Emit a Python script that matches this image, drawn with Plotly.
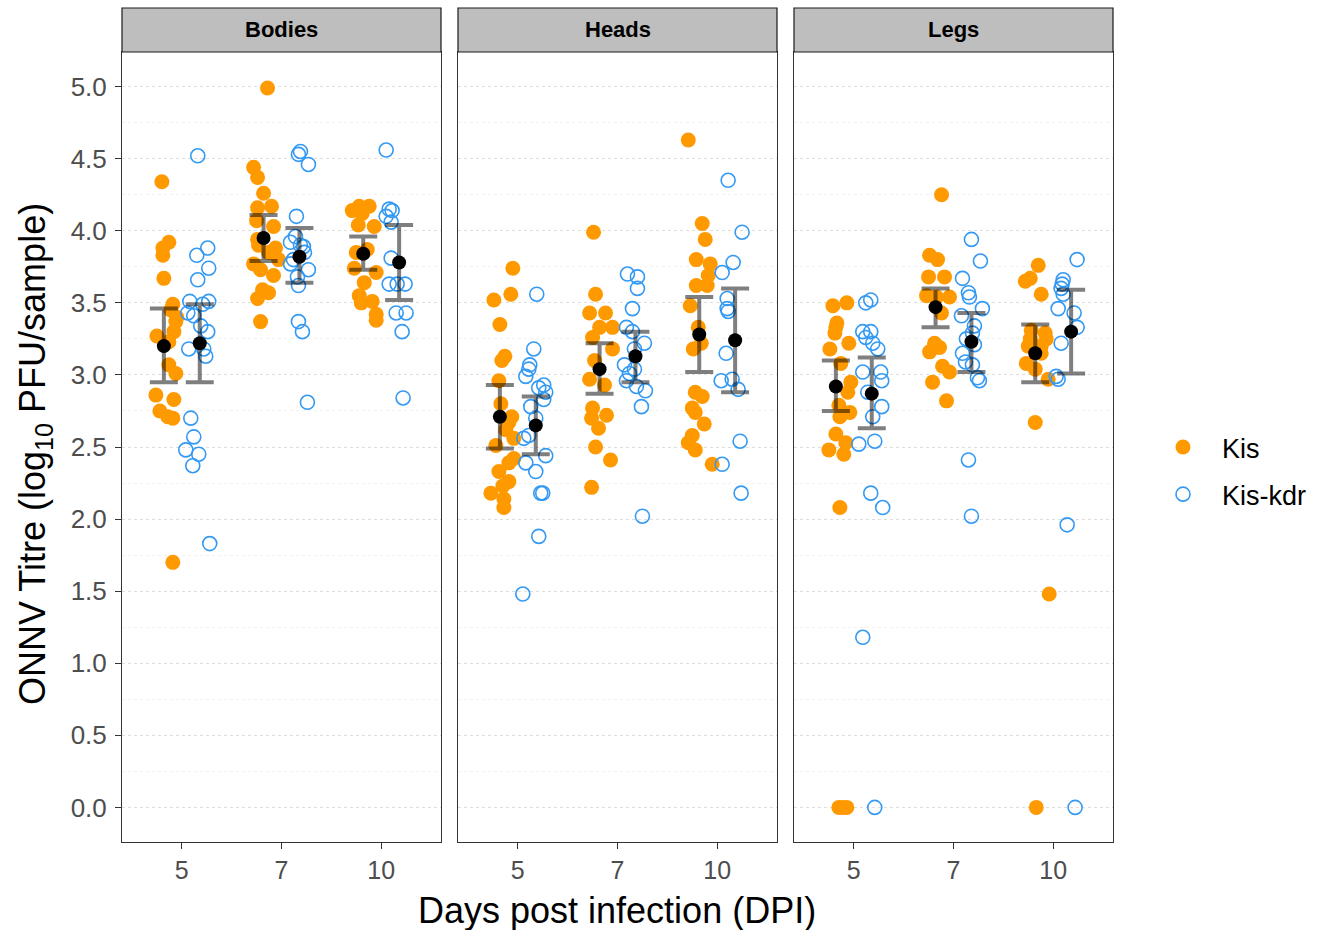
import plotly.graph_objects as go

W, H = 1329, 930
tissues = ["Bodies", "Heads", "Legs"]
dpi_labels = ["5", "7", "10"]
strains = ["Kis", "Kis-kdr"]

# ---- titre values (log10 PFU/sample) and jitter offsets (category units) ----
bodies_kis_5 = [4.34, 3.92, 3.88, 3.83, 3.67, 3.49, 3.45, 3.40, 3.37, 3.30, 3.27, 3.23, 3.07, 3.01, 2.86, 2.83, 2.75, 2.71, 2.70, 1.70]
bodies_kis_5_j = [-0.02, 0.05, -0.01, -0.01, 0.0, 0.09, 0.07, 0.13, 0.12, 0.10, -0.07, 0.05, 0.05, 0.12, -0.08, 0.10, -0.04, 0.04, 0.09, 0.09]
bodies_kdr_5 = [4.52, 3.88, 3.83, 3.74, 3.66, 3.51, 3.51, 3.49, 3.43, 3.41, 3.34, 3.30, 3.18, 3.18, 3.13, 2.70, 2.57, 2.48, 2.45, 2.37, 1.83]
bodies_kdr_5_j = [-0.02, 0.08, -0.03, 0.09, -0.02, -0.10, 0.09, 0.03, -0.12, -0.06, 0.01, 0.08, -0.11, 0.04, 0.06, -0.09, -0.06, -0.14, -0.01, -0.07, 0.10]
bodies_kis_7 = [4.99, 4.44, 4.37, 4.26, 4.17, 4.16, 4.07, 4.03, 3.94, 3.90, 3.88, 3.85, 3.80, 3.77, 3.73, 3.69, 3.59, 3.57, 3.53, 3.37]
bodies_kis_7_j = [0.04, -0.10, -0.06, 0.0, 0.08, -0.06, -0.07, 0.10, -0.06, -0.05, 0.12, 0.05, 0.15, -0.10, -0.03, 0.10, -0.01, 0.05, -0.06, -0.03]
bodies_kdr_7 = [4.55, 4.53, 4.46, 4.10, 3.96, 3.92, 3.90, 3.89, 3.85, 3.80, 3.77, 3.73, 3.68, 3.62, 3.37, 3.30, 2.81]
bodies_kdr_7_j = [0.01, -0.01, 0.09, -0.03, -0.04, -0.09, 0.01, 0.04, 0.05, -0.06, -0.09, 0.09, -0.02, -0.01, -0.01, 0.03, 0.08]
bodies_kis_10 = [4.14, 4.17, 4.17, 4.12, 4.04, 4.03, 3.87, 3.85, 3.74, 3.71, 3.64, 3.55, 3.51, 3.50, 3.42, 3.38]
bodies_kis_10_j = [-0.11, -0.04, 0.06, -0.01, -0.05, 0.11, 0.04, -0.07, -0.09, 0.13, 0.01, -0.04, 0.09, -0.02, 0.13, 0.13]
bodies_kdr_10 = [4.56, 4.15, 4.14, 4.10, 4.06, 3.81, 3.63, 3.63, 3.63, 3.43, 3.43, 3.30, 2.84]
bodies_kdr_10_j = [-0.13, -0.10, -0.07, -0.13, -0.08, -0.08, -0.10, -0.02, 0.06, -0.03, 0.07, 0.03, 0.04]

heads_kis_5 = [3.74, 3.56, 3.52, 3.35, 3.13, 3.10, 2.96, 2.80, 2.71, 2.67, 2.62, 2.56, 2.51, 2.42, 2.39, 2.33, 2.26, 2.23, 2.18, 2.14, 2.08]
heads_kis_5_j = [0.13, 0.11, -0.06, 0.0, 0.05, 0.02, -0.01, 0.01, 0.12, 0.09, 0.06, 0.14, -0.04, 0.14, 0.09, -0.01, 0.09, 0.03, -0.09, 0.04, 0.04]
heads_kdr_5 = [3.56, 3.18, 3.07, 3.04, 2.99, 2.93, 2.91, 2.88, 2.83, 2.78, 2.70, 2.58, 2.56, 2.44, 2.39, 2.33, 2.18, 2.18, 1.88, 1.48]
heads_kdr_5_j = [0.01, -0.02, -0.06, -0.07, -0.10, 0.08, 0.03, 0.10, 0.08, -0.05, 0.0, -0.07, -0.12, 0.10, -0.10, 0.0, 0.05, 0.07, 0.03, -0.13]
heads_kis_7 = [3.99, 3.56, 3.43, 3.43, 3.33, 3.33, 3.26, 3.18, 3.10, 2.97, 2.93, 2.77, 2.72, 2.70, 2.63, 2.50, 2.41, 2.22]
heads_kis_7_j = [-0.06, -0.04, -0.10, 0.06, 0.0, 0.13, -0.07, 0.13, -0.05, -0.10, 0.05, -0.07, 0.07, -0.08, -0.01, -0.04, 0.11, -0.08]
heads_kdr_7 = [3.70, 3.68, 3.60, 3.46, 3.33, 3.30, 3.22, 3.18, 3.07, 3.04, 3.01, 2.96, 2.92, 2.89, 2.78, 2.02]
heads_kdr_7_j = [-0.08, 0.02, 0.02, -0.03, -0.09, -0.03, 0.09, -0.01, -0.11, -0.01, -0.06, -0.09, 0.01, 0.10, 0.06, 0.07]
heads_kis_10 = [4.63, 4.05, 3.94, 3.80, 3.77, 3.69, 3.62, 3.62, 3.48, 3.33, 3.22, 3.18, 2.88, 2.85, 2.77, 2.74, 2.66, 2.58, 2.53, 2.48, 2.38]
heads_kis_10_j = [-0.11, 0.03, 0.06, -0.03, 0.11, 0.09, -0.03, 0.08, -0.09, -0.01, 0.02, -0.06, -0.04, 0.03, -0.07, -0.04, 0.05, -0.07, -0.11, -0.04, 0.13]
heads_kdr_10 = [4.35, 3.99, 3.78, 3.71, 3.53, 3.46, 3.44, 3.15, 2.96, 2.97, 2.90, 2.54, 2.38, 2.18]
heads_kdr_10_j = [-0.07, 0.07, -0.02, -0.13, -0.08, -0.08, -0.07, -0.09, -0.14, -0.03, 0.03, 0.05, -0.13, 0.06]

legs_kis_5 = [3.48, 3.50, 3.36, 3.33, 3.29, 3.22, 3.18, 3.08, 2.95, 2.88, 2.79, 2.74, 2.71, 2.59, 2.53, 2.48, 2.45, 2.08, 0.0, 0.0, 0.0]
legs_kis_5_j = [-0.03, 0.11, 0.01, 0.0, -0.01, 0.13, -0.06, 0.05, 0.15, 0.12, 0.03, 0.14, 0.04, 0.0, 0.10, -0.07, 0.08, 0.04, 0.03, 0.07, 0.11]
legs_kdr_5 = [3.50, 3.52, 3.30, 3.30, 3.26, 3.22, 3.18, 3.02, 3.02, 2.96, 2.88, 2.78, 2.71, 2.54, 2.52, 2.18, 2.08, 1.18, 0.0]
legs_kdr_5_j = [-0.06, -0.01, -0.09, -0.01, -0.06, 0.01, 0.06, -0.09, 0.09, 0.10, -0.04, 0.10, 0.01, 0.03, -0.13, -0.01, 0.11, -0.09, 0.03]
legs_kis_7 = [4.25, 3.83, 3.80, 3.68, 3.68, 3.55, 3.54, 3.54, 3.43, 3.22, 3.19, 3.16, 3.06, 3.02, 2.95, 2.82]
legs_kis_7_j = [0.06, -0.06, 0.02, -0.07, 0.09, -0.09, 0.14, 0.01, 0.06, -0.01, 0.04, -0.06, 0.07, 0.14, -0.03, 0.11]
legs_kdr_7 = [3.94, 3.79, 3.67, 3.57, 3.54, 3.46, 3.41, 3.34, 3.29, 3.25, 3.21, 3.15, 3.09, 3.07, 2.98, 2.96, 2.41, 2.02]
legs_kdr_7_j = [0.0, 0.09, -0.09, -0.03, -0.02, 0.11, -0.10, 0.03, 0.01, -0.05, 0.03, -0.09, -0.06, 0.01, 0.06, 0.08, -0.03, 0.0]
legs_kis_10 = [3.76, 3.67, 3.65, 3.56, 3.31, 3.29, 3.25, 3.25, 3.20, 3.20, 3.15, 3.08, 3.04, 2.97, 2.67, 1.48, 0.0]
legs_kis_10_j = [0.03, -0.05, -0.10, 0.06, -0.04, 0.10, -0.05, 0.11, 0.06, -0.07, 0.06, -0.09, 0.0, 0.13, 0.0, 0.14, 0.01]
legs_kdr_10 = [3.80, 3.66, 3.63, 3.60, 3.56, 3.46, 3.43, 3.33, 3.22, 2.99, 2.97, 1.96, 0.0]
legs_kdr_10_j = [0.06, -0.08, -0.09, -0.10, -0.08, -0.13, 0.03, 0.06, -0.10, -0.15, -0.13, -0.04, 0.04]

# ---- group means and error bar limits, order: dpi 5, 7, 10 ----
mean_kis = {"Bodies": [3.20, 3.95, 3.84], "Heads": [2.71, 3.04, 3.28], "Legs": [2.92, 3.47, 3.15]}
lo_kis = {"Bodies": [2.95, 3.79, 3.73], "Heads": [2.49, 2.87, 3.02], "Legs": [2.75, 3.33, 2.95]}
hi_kis = {"Bodies": [3.46, 4.11, 3.96], "Heads": [2.93, 3.22, 3.54], "Legs": [3.10, 3.60, 3.35]}
mean_kdr = {"Bodies": [3.22, 3.82, 3.78], "Heads": [2.65, 3.13, 3.24], "Legs": [2.87, 3.23, 3.30]}
lo_kdr = {"Bodies": [2.95, 3.64, 3.52], "Heads": [2.45, 2.95, 2.88], "Legs": [2.63, 3.02, 3.01]}
hi_kdr = {"Bodies": [3.49, 4.02, 4.04], "Heads": [2.85, 3.30, 3.60], "Legs": [3.12, 3.43, 3.59]}

data = {
    "Bodies": {"Kis": [(bodies_kis_5, bodies_kis_5_j), (bodies_kis_7, bodies_kis_7_j), (bodies_kis_10, bodies_kis_10_j)],
               "Kis-kdr": [(bodies_kdr_5, bodies_kdr_5_j), (bodies_kdr_7, bodies_kdr_7_j), (bodies_kdr_10, bodies_kdr_10_j)]},
    "Heads": {"Kis": [(heads_kis_5, heads_kis_5_j), (heads_kis_7, heads_kis_7_j), (heads_kis_10, heads_kis_10_j)],
              "Kis-kdr": [(heads_kdr_5, heads_kdr_5_j), (heads_kdr_7, heads_kdr_7_j), (heads_kdr_10, heads_kdr_10_j)]},
    "Legs": {"Kis": [(legs_kis_5, legs_kis_5_j), (legs_kis_7, legs_kis_7_j), (legs_kis_10, legs_kis_10_j)],
             "Kis-kdr": [(legs_kdr_5, legs_kdr_5_j), (legs_kdr_7, legs_kdr_7_j), (legs_kdr_10, legs_kdr_10_j)]},
}

ORANGE = "#FF9900"
BLUE = "#3399F3"
DODGE = 0.18
FONT = "Liberation Sans, Arial, sans-serif"

fig = go.Figure()

panel_px = [(122, 441), (458, 777), (794, 1113)]
y_top_px, y_bot_px = 52, 842

for pi, tissue in enumerate(tissues):
    xa = "x" if pi == 0 else f"x{pi+1}"
    ya = "y" if pi == 0 else f"y{pi+1}"
    for si, strain in enumerate(strains):
        off = -DODGE if si == 0 else DODGE
        xs, ys = [], []
        for ci, (vals, jit) in enumerate(data[tissue][strain]):
            for v, j in zip(vals, jit):
                xs.append(ci + 1 + off + j)
                ys.append(v)
        if si == 0:
            marker = dict(color=ORANGE, size=15, line=dict(width=0))
        else:
            marker = dict(color=BLUE, size=14, symbol="circle-open", line=dict(width=1.6))
        fig.add_trace(go.Scatter(x=xs, y=ys, mode="markers", marker=marker, name=strain,
                                 legendgroup=strain, showlegend=(pi == 0),
                                 xaxis=xa, yaxis=ya, hoverinfo="skip"))
    # means and error bars
    for si, strain in enumerate(strains):
        off = -DODGE if si == 0 else DODGE
        m = (mean_kis if si == 0 else mean_kdr)[tissue]
        lo = (lo_kis if si == 0 else lo_kdr)[tissue]
        hi = (hi_kis if si == 0 else hi_kdr)[tissue]
        fig.add_trace(go.Scatter(
            x=[c + 1 + off for c in range(3)], y=m, mode="markers",
            marker=dict(color="rgba(0,0,0,0)", size=1),
            error_y=dict(type="data", symmetric=False,
                         array=[h - mm for h, mm in zip(hi, m)],
                         arrayminus=[mm - l for mm, l in zip(m, lo)],
                         color="rgba(0,0,0,0.5)", thickness=4, width=14),
            showlegend=False, xaxis=xa, yaxis=ya, hoverinfo="skip"))
        fig.add_trace(go.Scatter(
            x=[c + 1 + off for c in range(3)], y=m, mode="markers",
            marker=dict(color="black", size=14),
            showlegend=False, xaxis=xa, yaxis=ya, hoverinfo="skip"))

layout = dict(
    width=W, height=H, margin=dict(l=0, r=0, t=0, b=0),
    paper_bgcolor="white", plot_bgcolor="white",
    font=dict(family=FONT, color="black"),
    legend=dict(x=1144 / W, y=1 - 423 / H, xanchor="left", yanchor="top",
                font=dict(size=27, family=FONT, color="black"),
                tracegroupgap=9, itemsizing="trace", itemwidth=68,
                bgcolor="rgba(0,0,0,0)"),
    shapes=[], annotations=[],
)

ydom = [1 - y_bot_px / H, 1 - y_top_px / H]
for pi, (x0, x1) in enumerate(panel_px):
    xk = "xaxis" if pi == 0 else f"xaxis{pi+1}"
    yk = "yaxis" if pi == 0 else f"yaxis{pi+1}"
    xanchor = "y" if pi == 0 else f"y{pi+1}"
    yanchor = "x" if pi == 0 else f"x{pi+1}"
    layout[xk] = dict(domain=[x0 / W, x1 / W], range=[0.4, 3.6], anchor=xanchor,
                      tickvals=[1, 2, 3], ticktext=dpi_labels, ticks="outside", ticklen=6,
                      tickcolor="#333333", tickfont=dict(size=25, color="#4D4D4D", family=FONT),
                      showgrid=False, zeroline=False, showline=True, mirror=True,
                      linecolor="#333333", linewidth=1)
    layout[yk] = dict(domain=ydom, range=[-0.24, 5.24], anchor=yanchor,
                      tickvals=[0, 0.5, 1, 1.5, 2, 2.5, 3, 3.5, 4, 4.5, 5],
                      ticktext=["0.0", "0.5", "1.0", "1.5", "2.0", "2.5", "3.0", "3.5", "4.0", "4.5", "5.0"],
                      showticklabels=(pi == 0), ticks="outside" if pi == 0 else "", ticklen=6,
                      tickcolor="#333333", tickfont=dict(size=26, color="#4D4D4D", family=FONT),
                      ticklabelstandoff=3,
                      showgrid=True, gridcolor="rgba(0,0,0,0.13)", gridwidth=1, griddash="dot",
                      minor=dict(tickvals=[0.25, 0.75, 1.25, 1.75, 2.25, 2.75, 3.25, 3.75, 4.25, 4.75],
                                 showgrid=True, gridcolor="rgba(0,0,0,0.05)", gridwidth=1, griddash="dot"),
                      zeroline=False, showline=True, mirror=True,
                      linecolor="#333333", linewidth=1)
    # strip
    layout["shapes"].append(dict(type="rect", xref="paper", yref="paper",
                                 x0=x0 / W, x1=x1 / W, y0=1 - 52 / H, y1=1 - 8 / H,
                                 fillcolor="#BEBEBE", line=dict(color="#1A1A1A", width=1.2),
                                 layer="above"))
    layout["annotations"].append(dict(text=f"<b>{tissues[pi]}</b>", xref="paper", yref="paper",
                                      x=(x0 + x1) / 2 / W, y=1 - 30 / H, showarrow=False,
                                      xanchor="center", yanchor="middle",
                                      font=dict(size=22, color="black", family=FONT)))

layout["annotations"].append(dict(text="ONNV Titre (log<sub>10</sub> PFU/sample)", xref="paper", yref="paper",
                                  x=35 / W, y=1 - 454 / H, showarrow=False, textangle=-90,
                                  xanchor="center", yanchor="middle",
                                  font=dict(size=36, color="black", family=FONT)))
layout["annotations"].append(dict(text="Days post infection (DPI)", xref="paper", yref="paper",
                                  x=617 / W, y=1 - 910 / H, showarrow=False,
                                  xanchor="center", yanchor="middle",
                                  font=dict(size=36, color="black", family=FONT)))

fig.update_layout(**layout)
fig.write_html("out.html")
